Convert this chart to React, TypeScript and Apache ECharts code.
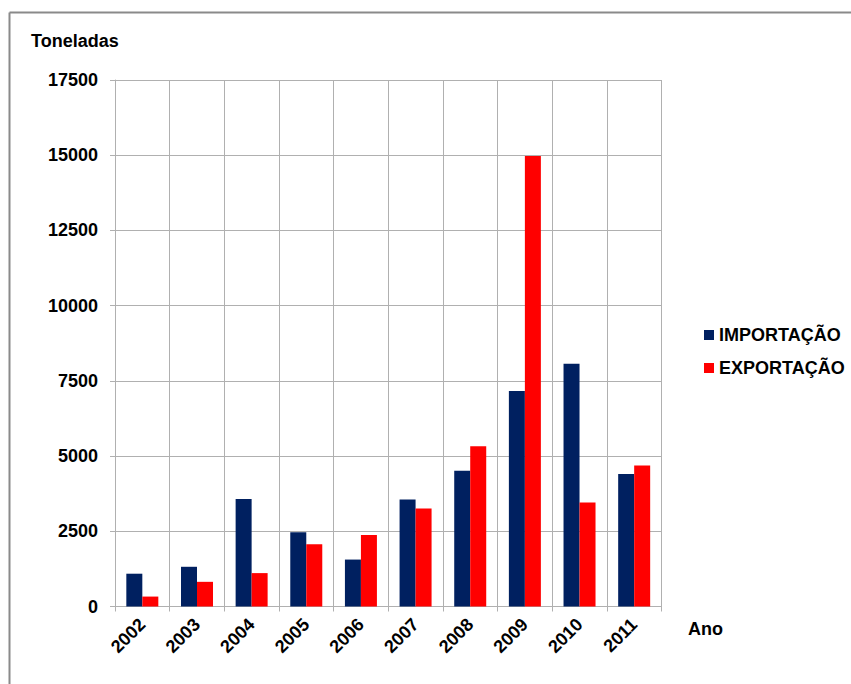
import React, { useEffect, useRef } from "react";
import * as echarts from "echarts";

const years = ["2002", "2003", "2004", "2005", "2006", "2007", "2008", "2009", "2010", "2011"];
const importacao = [1090, 1320, 3570, 2470, 1560, 3560, 4510, 7160, 8070, 4400];
const exportacao = [330, 820, 1110, 2070, 2380, 3260, 5330, 14970, 3460, 4690];
const seriesNames = ["IMPORTAÇÃO", "EXPORTAÇÃO"];

export default function App() {
  const ref = useRef<HTMLDivElement>(null);
  useEffect(() => {
    if (!ref.current) return;
    const chart = echarts.init(ref.current, null, { renderer: "svg" });
    const font = "'Liberation Sans', Arial, sans-serif";
    chart.setOption({
      animation: false,
      backgroundColor: "#ffffff",
      textStyle: { fontFamily: font },
      grid: { left: 115, right: 189.5, top: 80, bottom: 77.5, containLabel: false },
      legend: {
        orient: "vertical",
        left: 699,
        top: 321,
        itemWidth: 10,
        itemHeight: 10,
        itemGap: 15,
        icon: "rect",
        textStyle: { fontFamily: font, fontWeight: "bold", fontSize: 18, color: "#000" },
        data: seriesNames,
      },
      xAxis: {
        type: "category",
        data: years,
        boundaryGap: true,
        axisLine: { show: true, lineStyle: { color: "#b0b0b0", width: 1 } },
        axisTick: { show: true, length: 5, alignWithLabel: false, lineStyle: { color: "#b0b0b0" } },
        splitLine: { show: true, lineStyle: { color: "#b0b0b0", width: 1 } },
        axisLabel: {
          rotate: 45,
          interval: 0,
          margin: 15,
          fontFamily: font,
          fontWeight: "bold",
          fontSize: 18,
          color: "#000",
        },
      },
      yAxis: {
        type: "value",
        min: 0,
        max: 17500,
        interval: 2500,
        axisLine: { show: true, lineStyle: { color: "#b0b0b0", width: 1 } },
        axisTick: { show: true, length: 5, lineStyle: { color: "#b0b0b0" } },
        splitLine: { show: true, lineStyle: { color: "#b0b0b0", width: 1 } },
        axisLabel: {
          margin: 17,
          formatter: (v: number) => String(v),
          fontFamily: font,
          fontWeight: "bold",
          fontSize: 18,
          color: "#000",
        },
      },
      series: [
        {
          name: seriesNames[0],
          type: "bar",
          data: importacao,
          barWidth: 16,
          barGap: "0%",
          itemStyle: { color: "#002060" },
        },
        {
          name: seriesNames[1],
          type: "bar",
          data: exportacao,
          barWidth: 16,
          barGap: "0%",
          itemStyle: { color: "#ff0000" },
        },
      ],
      graphic: [
        {
          type: "line",
          shape: { x1: 9.5, y1: 12.5, x2: 9.5, y2: 684 },
          style: { stroke: "#8a8a8a", lineWidth: 2 },
        },
        {
          type: "line",
          shape: { x1: 9.5, y1: 12.5, x2: 851, y2: 12.5 },
          style: { stroke: "#8a8a8a", lineWidth: 2 },
        },
        {
          type: "text",
          left: 31,
          top: 32,
          style: { text: "Toneladas", fontFamily: font, fontWeight: "bold", fontSize: 18, fill: "#000" },
        },
        {
          type: "text",
          left: 688,
          top: 620,
          style: { text: "Ano", fontFamily: font, fontWeight: "bold", fontSize: 18, fill: "#000" },
        },
      ],
    });
    return () => chart.dispose();
  }, []);
  return (
    <div
      ref={ref}
      style={{ position: "fixed", left: 0, top: 0, width: 851, height: 684 }}
    />
  );
}
